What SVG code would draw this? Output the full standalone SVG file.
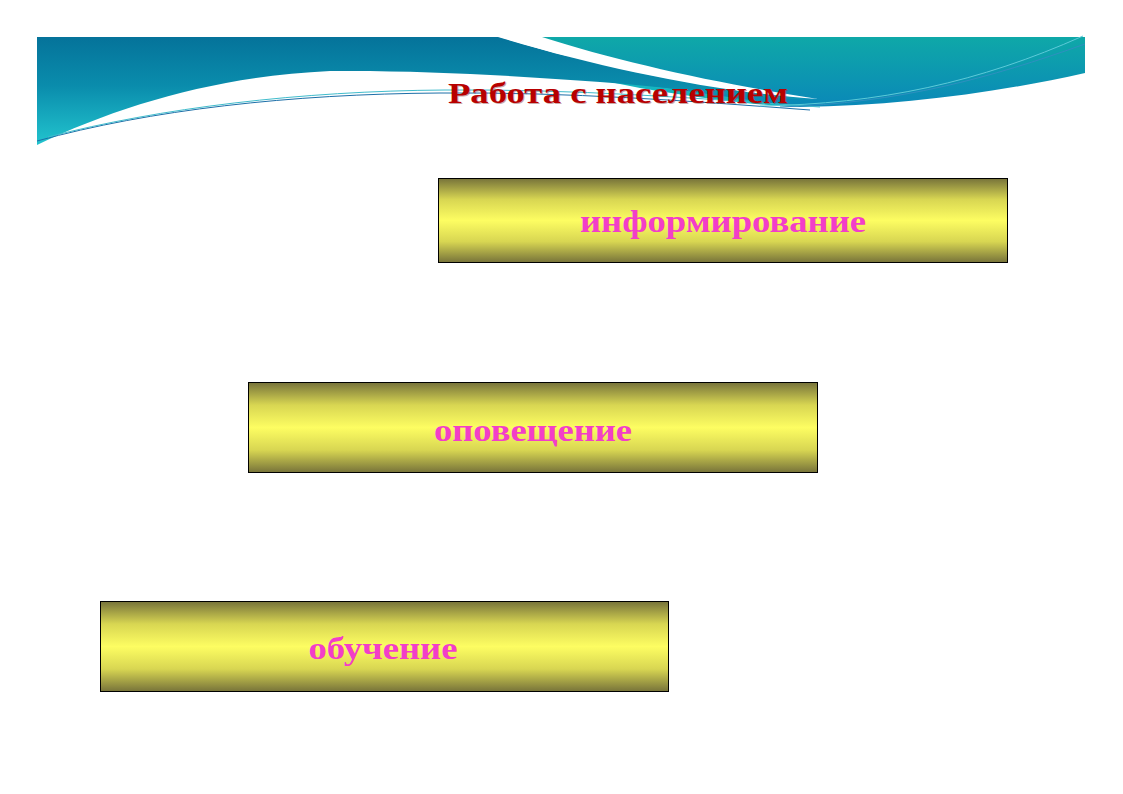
<svg xmlns="http://www.w3.org/2000/svg" width="1123" height="794" viewBox="0 0 1123 794">
<defs>
<linearGradient id="gl" x1="0" y1="0" x2="0" y2="1">
<stop offset="0" stop-color="#05739a"/>
<stop offset="0.45" stop-color="#0a8cac"/>
<stop offset="1" stop-color="#22c4ce"/>
</linearGradient>
<linearGradient id="gr" x1="0" y1="0" x2="0" y2="1">
<stop offset="0" stop-color="#0fa8a8"/>
<stop offset="1" stop-color="#0a88b8"/>
</linearGradient>
<linearGradient id="box" x1="0" y1="0" x2="0" y2="1">
<stop offset="0" stop-color="#77733a"/>
<stop offset="0.25" stop-color="#d8d652"/>
<stop offset="0.5" stop-color="#fdfd62"/>
<stop offset="0.75" stop-color="#d8d652"/>
<stop offset="1" stop-color="#77733a"/>
</linearGradient>
<style>
.bx{fill:url(#box);stroke:#000;stroke-width:1}
.lb{font-family:"Liberation Serif","Times New Roman",serif;font-weight:bold;font-size:32px;fill:#f23ec8;text-anchor:middle}
.ln{fill:none;stroke-width:1}
.tt{font-family:"Liberation Serif","Times New Roman",serif;font-weight:bold;font-size:30px;text-anchor:middle}
</style>
</defs>
<g id="banner">
<path d="M540,37 L1085,37 L1085,73 C1000,92 900,106 800,107 C740,104 680,90 600,80 Z" fill="url(#gr)"/>
<path d="M600,80 C680,88 740,100 800,107 C760,106 700,98 640,88 Z" fill="#16b6c0"/>
<path d="M37,37 L500,37 C600,68 720,92 818,100 C740,97 680,88 600,82 C520,76 420,70 330,71 C220,76 120,105 37,145 Z" fill="url(#gl)"/>
<path d="M498,37 L542,37 C620,62 720,84 818,99 C720,93 600,68 498,37 Z" fill="#ffffff"/>
<path class="ln" d="M37,141 C150,110 290,94 440,93 C570,92 690,101 810,110" stroke="#1d6fa8"/>
<path class="ln" d="M48,137 C160,108 300,91 445,90 C575,89 695,98 820,107" stroke="#40bccc"/>
<path class="ln" d="M760,106 C880,104 980,82 1083,36" stroke="#5ccad8"/>
<path class="ln" d="M780,107 C900,103 990,78 1085,44" stroke="#2f8fc0"/>
</g>
<g id="title">
<text class="tt" x="619" y="104" fill="#7a3030" textLength="340" lengthAdjust="spacingAndGlyphs" opacity="0.4">Работа с населением</text>
<text class="tt" x="618" y="103" fill="#b80000" textLength="340" lengthAdjust="spacingAndGlyphs">Работа с населением</text>
</g>
<g id="node1">
<rect class="bx" x="438.5" y="178.5" width="569" height="84"/>
<text class="lb" x="723" y="232" textLength="286" lengthAdjust="spacingAndGlyphs">информирование</text>
</g>
<g id="node2">
<rect class="bx" x="248.5" y="382.5" width="569" height="90"/>
<text class="lb" x="533" y="441" textLength="198" lengthAdjust="spacingAndGlyphs">оповещение</text>
</g>
<g id="node3">
<rect class="bx" x="100.5" y="601.5" width="568" height="90"/>
<text class="lb" x="383" y="659" textLength="149" lengthAdjust="spacingAndGlyphs">обучение</text>
</g>
<g id="connectors"/>
</svg>
